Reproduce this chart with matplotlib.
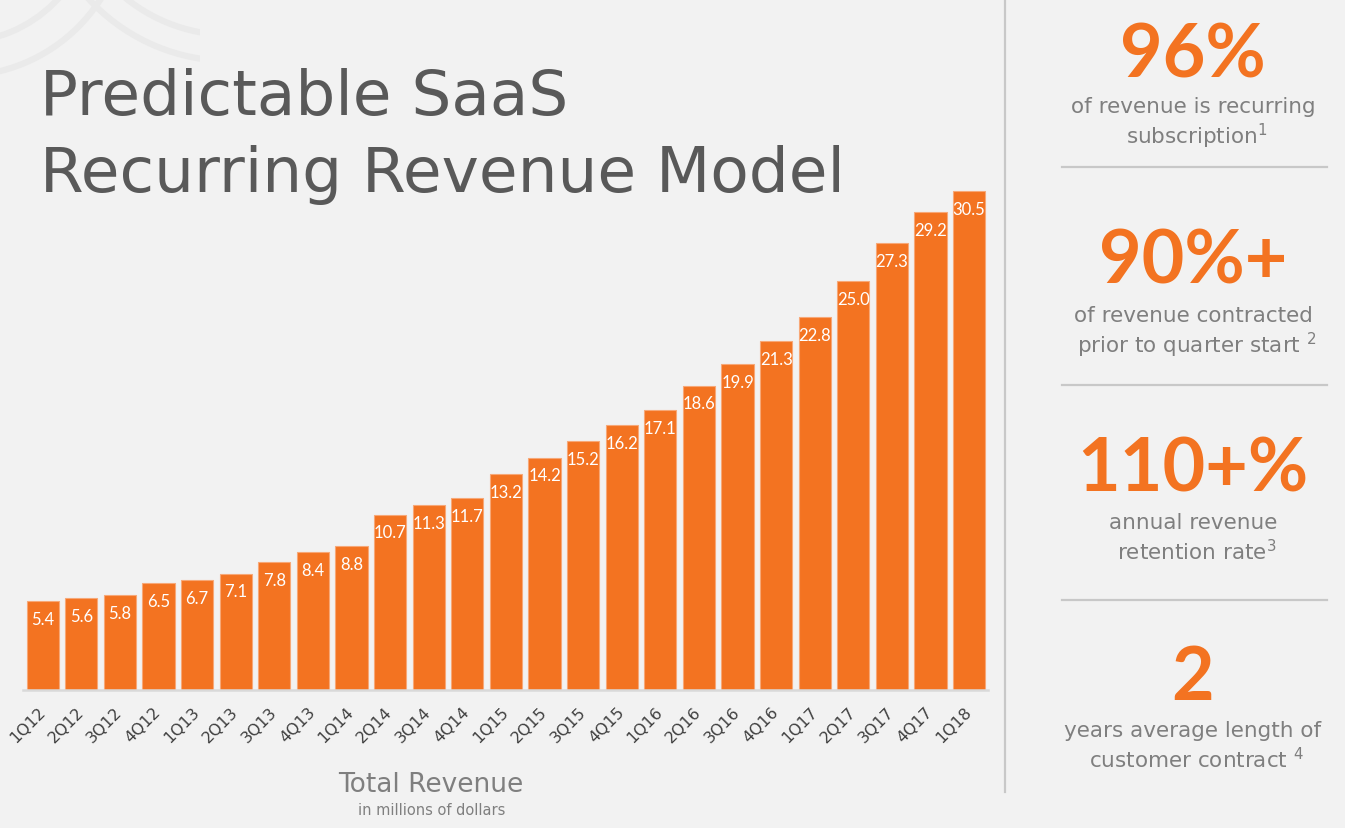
import matplotlib
matplotlib.use('Agg')
import matplotlib.pyplot as plt
from matplotlib.patches import Arc, Rectangle

plt.rcParams['font.family'] = ['DejaVu Sans']
plt.rcParams['mathtext.fontset'] = 'dejavusans'
plt.rcParams['mathtext.default'] = 'regular'

# quarterly total revenue, millions of dollars
quarters = ['1Q12', '2Q12', '3Q12', '4Q12', '1Q13', '2Q13', '3Q13', '4Q13',
            '1Q14', '2Q14', '3Q14', '4Q14', '1Q15', '2Q15', '3Q15', '4Q15',
            '1Q16', '2Q16', '3Q16', '4Q16', '1Q17', '2Q17', '3Q17', '4Q17', '1Q18']
revenue = [5.4, 5.6, 5.8, 6.5, 6.7, 7.1, 7.8, 8.4, 8.8, 10.7, 11.3, 11.7, 13.2,
           14.2, 15.2, 16.2, 17.1, 18.6, 19.9, 21.3, 22.8, 25.0, 27.3, 29.2, 30.5]

# key metrics on the right
kpi_values = ['96%', '90%+', '110+%', '2']
kpi_line1 = ['of revenue is recurring', 'of revenue contracted',
             'annual revenue', 'years average length of']
kpi_line2 = ['subscription$^{1}$', 'prior to quarter start $^{2}$',
             'retention rate$^{3}$', 'customer contract $^{4}$']

ORANGE = '#F37321'
BG = '#F2F2F2'
GRAY = '#7F7F7F'
W, H = 1345, 829

fig = plt.figure(figsize=(W / 100, H / 100), dpi=100, facecolor=BG)

# overlay in pixel coordinates for the slide decorations and text
ov = fig.add_axes([0, 0, 1, 1], zorder=0)
ov.set_xlim(0, W)
ov.set_ylim(H, 0)
ov.axis('off')

# faint logo arcs in the top-left corner
clip = Rectangle((0, 0), 200, 120, transform=ov.transData)
for cx, cy, r in [(-40, -90, 133), (-40, -90, 167), (230, -130, 166), (230, -130, 192)]:
    a = Arc((cx, cy), 2 * r, 2 * r, color='#EAEAEA', lw=4.5)
    ov.add_patch(a)
    a.set_clip_path(clip)

ov.text(40, 115, 'Predictable SaaS', fontsize=45.3, color='#595959', va='baseline', ha='left')
ov.text(40, 192, 'Recurring Revenue Model', fontsize=45.3, color='#595959', va='baseline', ha='left')

ov.text(431, 785, 'Total Revenue', fontsize=19, color=GRAY, ha='center', va='center')
ov.text(432, 811, 'in millions of dollars', fontsize=10.5, color=GRAY, ha='center', va='center')

# divider and right panel
ov.plot([1005, 1005], [0, 793], color='#C8C8C8', lw=1.6)
for y in [168, 386, 601]:
    ov.plot([1062, 1327], [y, y], color='#C8C8C8', lw=1.6)

kpi_y = [56, 262, 470, 678]
line_y = [107, 316, 523, 731]
for i in range(4):
    ov.text(1193, kpi_y[i], kpi_values[i], fontsize=53, fontweight='bold',
            family=['Lato', 'DejaVu Sans'], color=ORANGE, ha='center', va='center')
    ov.text(1193, line_y[i], kpi_line1[i], fontsize=15.5, color=GRAY, ha='center', va='center')
    ov.text(1197, line_y[i] + 29, kpi_line2[i], fontsize=15.5, color=GRAY, ha='center', va='center')

# bar chart
ax = fig.add_axes([23 / W, 1 - 690.7 / H, 965 / W, 523.2 / H], zorder=1)
ax.patch.set_alpha(0)
x = list(range(len(quarters)))
bars = ax.bar(x, revenue, width=0.83, color=ORANGE, edgecolor='#F7A877', linewidth=0.8)
for xi, v in zip(x, revenue):
    ax.annotate(f'{v:.1f}', (xi, v), xytext=(0, -7), textcoords='offset points',
                ha='center', va='top', color='white', fontsize=12,
                family=['Lato', 'DejaVu Sans'])

ax.set_xlim(-0.51, 24.49)
ax.set_ylim(0, 32)
ax.set_xticks(x)
ax.set_xticklabels(quarters, rotation=45, ha='right', va='center',
                   rotation_mode='anchor', fontsize=11.5, color='#404040')
ax.tick_params(axis='x', length=0, pad=14)
for lbl in ax.get_xticklabels():
    lbl.set_x(lbl.get_position()[0] + 0.08)
ax.set_yticks([])
for s in ['top', 'right', 'left']:
    ax.spines[s].set_visible(False)
ax.spines['bottom'].set_color('#D9D9D9')
ax.spines['bottom'].set_linewidth(1.8)

fig.savefig('out.png', dpi=100, facecolor=BG)
